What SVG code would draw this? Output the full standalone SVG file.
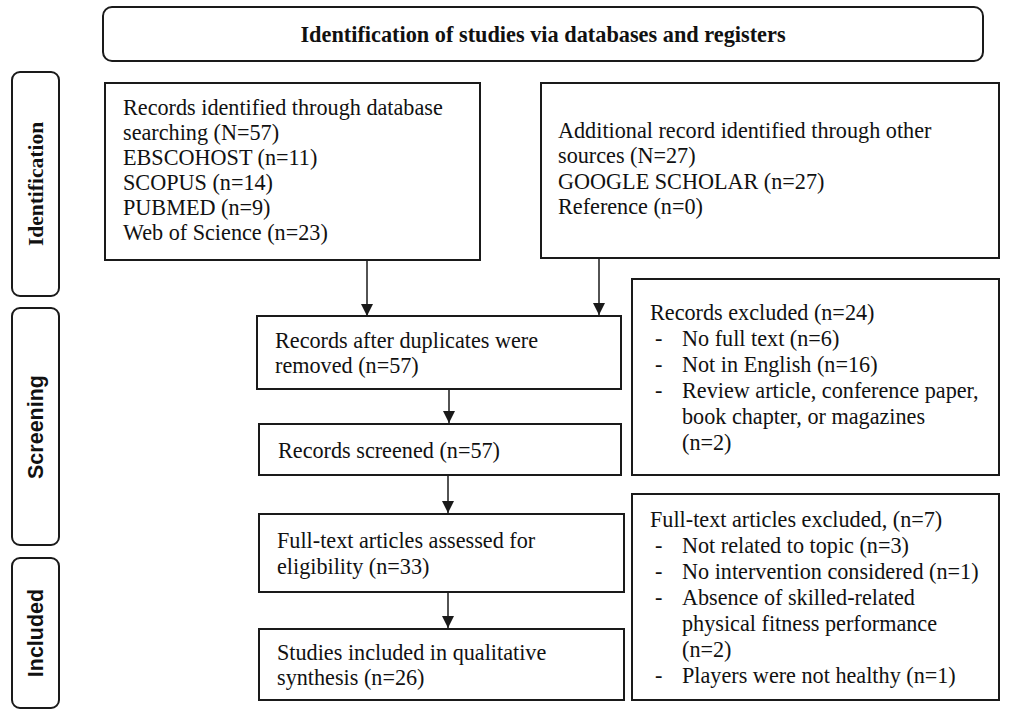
<svg xmlns="http://www.w3.org/2000/svg" width="1013" height="720" viewBox="0 0 1013 720">
<style>
.box{fill:#fff;stroke:#1a1a1a;stroke-width:2}
.t{font-family:"Liberation Serif","Times New Roman",serif;font-size:22.2px;fill:#111}
.tb{font-family:"Liberation Serif","Times New Roman",serif;font-size:22.3px;font-weight:bold;fill:#111}
.side{font-family:"Liberation Sans",Arial,sans-serif;font-size:21.5px;font-weight:bold;fill:#111}
.sides{font-family:"Liberation Serif","Times New Roman",serif;font-size:21.5px;font-weight:bold;fill:#111}
.c{stroke:#1a1a1a;stroke-width:1.5;fill:none;marker-end:url(#ah)}
</style>
<defs>
<marker id="ah" markerUnits="userSpaceOnUse" markerWidth="12" markerHeight="12" viewBox="0 0 12 12" refX="12" refY="6" orient="auto">
<path d="M0,0 L12,6 L0,12 z" fill="#1a1a1a"/>
</marker>
</defs>
<rect width="1013" height="720" fill="#fff"/>
<g id="title">
<rect class="box" x="103" y="7" width="880" height="54" rx="9"/>
<text class="tb" x="543" y="42" text-anchor="middle">Identification of studies via databases and registers</text>
</g>
<g id="phase-identification">
<rect class="box" x="12" y="72" width="47" height="224" rx="8"/>
<text class="sides" transform="translate(43,184) rotate(-90)" text-anchor="middle">Identification</text>
</g>
<g id="phase-screening">
<rect class="box" x="12" y="308" width="47" height="237" rx="8"/>
<text class="side" transform="translate(43,427) rotate(-90)" text-anchor="middle">Screening</text>
</g>
<g id="phase-included">
<rect class="box" x="12" y="558" width="47" height="150" rx="8"/>
<text class="side" transform="translate(43,633) rotate(-90)" text-anchor="middle">Included</text>
</g>
<g id="db-records">
<rect class="box" x="105" y="83" width="375" height="177"/>
<text class="t" x="123" y="115">Records identified through database</text>
<text class="t" x="123" y="140">searching (N=57)</text>
<text class="t" x="123" y="165">EBSCOHOST (n=11)</text>
<text class="t" x="123" y="190">SCOPUS (n=14)</text>
<text class="t" x="123" y="215">PUBMED (n=9)</text>
<text class="t" x="123" y="240">Web of Science (n=23)</text>
</g>
<g id="other-records">
<rect class="box" x="541" y="83" width="458" height="175"/>
<text class="t" x="558" y="138">Additional record identified through other</text>
<text class="t" x="558" y="163">sources (N=27)</text>
<text class="t" x="558" y="189">GOOGLE SCHOLAR (n=27)</text>
<text class="t" x="558" y="214">Reference (n=0)</text>
</g>
<g id="dedup">
<rect class="box" x="257" y="316" width="364" height="73"/>
<text class="t" x="275" y="348">Records after duplicates were</text>
<text class="t" x="275" y="373">removed (n=57)</text>
</g>
<g id="screened">
<rect class="box" x="259" y="424" width="362" height="51"/>
<text class="t" x="278" y="458">Records screened (n=57)</text>
</g>
<g id="fulltext">
<rect class="box" x="259" y="514" width="365" height="78"/>
<text class="t" x="277" y="548">Full-text articles assessed for</text>
<text class="t" x="277" y="574">eligibility (n=33)</text>
</g>
<g id="included">
<rect class="box" x="259" y="629" width="365" height="71"/>
<text class="t" x="277" y="660">Studies included in qualitative</text>
<text class="t" x="277" y="685">synthesis (n=26)</text>
</g>
<g id="excluded-records">
<rect class="box" x="632" y="279" width="367" height="196"/>
<text class="t" x="650" y="320">Records excluded (n=24)</text>
<text class="t" x="655" y="346">-</text><text class="t" x="682" y="346">No full text (n=6)</text>
<text class="t" x="655" y="372">-</text><text class="t" x="682" y="372">Not in English (n=16)</text>
<text class="t" x="655" y="398">-</text><text class="t" x="682" y="398">Review article, conference paper,</text>
<text class="t" x="682" y="424">book chapter, or magazines</text>
<text class="t" x="682" y="450">(n=2)</text>
</g>
<g id="excluded-fulltext">
<rect class="box" x="632" y="494" width="367" height="206"/>
<text class="t" x="650" y="527">Full-text articles excluded, (n=7)</text>
<text class="t" x="655" y="553">-</text><text class="t" x="682" y="553">Not related to topic (n=3)</text>
<text class="t" x="655" y="579">-</text><text class="t" x="682" y="579">No intervention considered (n=1)</text>
<text class="t" x="655" y="605">-</text><text class="t" x="682" y="605">Absence of skilled-related</text>
<text class="t" x="682" y="631">physical fitness performance</text>
<text class="t" x="682" y="657">(n=2)</text>
<text class="t" x="655" y="683">-</text><text class="t" x="682" y="683">Players were not healthy (n=1)</text>
</g>
<g id="connectors">
<line class="c" x1="367" y1="261" x2="367" y2="316"/>
<line class="c" x1="599" y1="259" x2="599" y2="315"/>
<line class="c" x1="449" y1="390" x2="449" y2="423"/>
<line class="c" x1="448" y1="476" x2="448" y2="513"/>
<line class="c" x1="448" y1="593" x2="448" y2="628"/>
</g>
</svg>
